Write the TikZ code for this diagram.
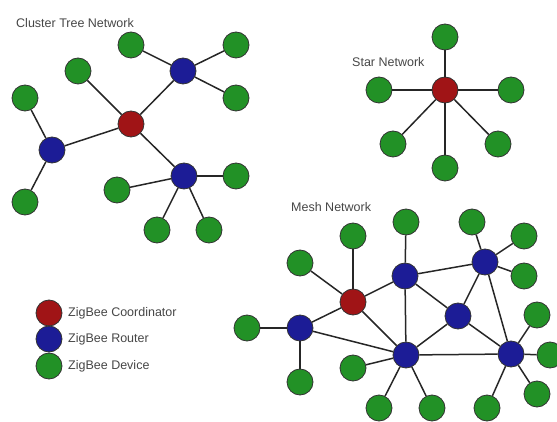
\documentclass[tikz,border=0pt]{standalone}
\usepackage{fontspec}
\setmainfont{Liberation Sans}
\definecolor{zbred}{RGB}{160,20,22}
\definecolor{zbblue}{RGB}{28,28,150}
\definecolor{zbgreen}{RGB}{34,145,38}
\definecolor{zbtext}{RGB}{70,70,70}

\begin{document}
\begin{tikzpicture}[x=1pt, y=-1pt,
    coord/.style={draw=black!80, circle, fill=zbred, minimum size=26pt, inner sep=0pt, line width=0.8pt},
    router/.style={draw=black!80, circle, fill=zbblue, minimum size=26pt, inner sep=0pt, line width=0.8pt},
    device/.style={draw=black!80, circle, fill=zbgreen, minimum size=26pt, inner sep=0pt, line width=0.8pt},
    link/.style={draw=black!85, line width=1.5pt},
    title/.style={text=zbtext, font=\fontsize{12.5}{14}\selectfont, inner sep=0pt, anchor=west}]
    \useasboundingbox (0,0) rectangle (557,422);

    % cluster tree
    \node[title] (TC) at (16,23) {Cluster Tree Network};
    \node[coord]  (C)   at (131,124) {};
    \node[router] (R1)  at (183,71) {};
    \node[router] (R2)  at (52,150) {};
    \node[router] (R3)  at (184,176) {};
    \node[device] (D0)  at (78,71) {};
    \node[device] (D1)  at (131,45) {};
    \node[device] (D2)  at (236,45) {};
    \node[device] (D3)  at (236,98) {};
    \node[device] (D4)  at (25,98) {};
    \node[device] (D5)  at (25,202) {};
    \node[device] (D6)  at (117,190) {};
    \node[device] (D7)  at (236,176) {};
    \node[device] (D8)  at (157,230) {};
    \node[device] (D9)  at (209,230) {};

    \draw[link] (C) to (D0);
    \draw[link] (C) to (R1);
    \draw[link] (C) to (R2);
    \draw[link] (C) to (R3);
    \draw[link] (R1) to (D1);
    \draw[link] (R1) to (D2);
    \draw[link] (R1) to (D3);
    \draw[link] (R2) to (D4);
    \draw[link] (R2) to (D5);
    \draw[link] (R3) to (D6);
    \draw[link] (R3) to (D7);
    \draw[link] (R3) to (D8);
    \draw[link] (R3) to (D9);

    % star
    \node[title] (TS) at (352,62) {Star Network};
    \node[coord]  (S)  at (445,90) {};
    \node[device] (S1) at (445,37) {};
    \node[device] (S2) at (379,90) {};
    \node[device] (S3) at (511,90) {};
    \node[device] (S4) at (393,144) {};
    \node[device] (S5) at (498,144) {};
    \node[device] (S6) at (445,168) {};

    \foreach \s in {S1,S2,S3,S4,S5,S6}
        \draw[link] (S) to (\s);

    % mesh
    \node[title] (TM) at (291,207) {Mesh Network};
    \node[coord]  (M)  at (353,302) {};
    \node[router] (MA) at (300,328) {};
    \node[router] (MB) at (405,276) {};
    \node[router] (MC) at (485,262) {};
    \node[router] (MD) at (458,316) {};
    \node[router] (ME) at (406,355) {};
    \node[router] (MF) at (511,354) {};
    \node[device] (M1)  at (300,263) {};
    \node[device] (M2)  at (353,236) {};
    \node[device] (M3)  at (406,222) {};
    \node[device] (M4)  at (472,222) {};
    \node[device] (M5)  at (524,236) {};
    \node[device] (M6)  at (524,276) {};
    \node[device] (M7)  at (247,328) {};
    \node[device] (M8)  at (300,382) {};
    \node[device] (M9)  at (353,368) {};
    \node[device] (M10) at (379,408) {};
    \node[device] (M11) at (432,408) {};
    \node[device] (M12) at (487,408) {};
    \node[device] (M13) at (537,315) {};
    \node[device] (M14) at (550,355) {};
    \node[device] (M15) at (537,394) {};

    \draw[link] (MA) to (M);
    \draw[link] (M) to (MB);
    \draw[link] (M) to (ME);
    \draw[link] (MA) to (ME);
    \draw[link] (MB) to (ME);
    \draw[link] (MB) to (MC);
    \draw[link] (MB) to (MD);
    \draw[link] (MC) to (MD);
    \draw[link] (MC) to (MF);
    \draw[link] (MD) to (ME);
    \draw[link] (MD) to (MF);
    \draw[link] (ME) to (MF);
    \draw[link] (M) to (M1);
    \draw[link] (M) to (M2);
    \draw[link] (MB) to (M3);
    \draw[link] (MC) to (M4);
    \draw[link] (MC) to (M5);
    \draw[link] (MC) to (M6);
    \draw[link] (MA) to (M7);
    \draw[link] (MA) to (M8);
    \draw[link] (ME) to (M9);
    \draw[link] (ME) to (M10);
    \draw[link] (ME) to (M11);
    \draw[link] (MF) to (M12);
    \draw[link] (MF) to (M13);
    \draw[link] (MF) to (M14);
    \draw[link] (MF) to (M15);

    % legend
    \node[coord]  (LC) at (49,313) {};
    \node[router] (LR) at (49,339) {};
    \node[device] (LD) at (49,366) {};
    \node[title] (LCt) at (68,313) {ZigBee Coordinator};
    \node[title] (LRt) at (68,339) {ZigBee Router};
    \node[title] (LDt) at (68,366) {ZigBee Device};
\end{tikzpicture}
\end{document}
